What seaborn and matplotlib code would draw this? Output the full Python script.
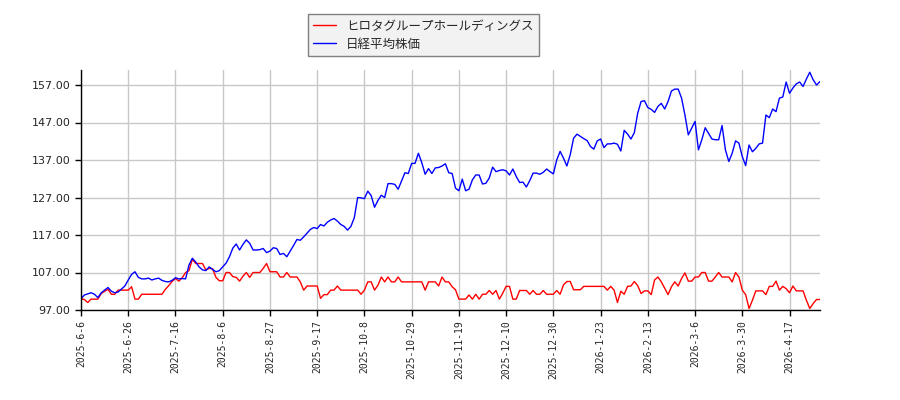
import pandas as pd
import matplotlib
matplotlib.use("Agg")
import matplotlib.pyplot as plt
import seaborn as sns

# series names
company = "ヒロタグループホールディングス"
index_name = "日経平均株価"

# tick labels (one every 14 trading days)
tick_labels = ["2025-6-6", "2025-6-26", "2025-7-16", "2025-8-6", "2025-8-27",
               "2025-9-17", "2025-10-8", "2025-10-29", "2025-11-19", "2025-12-10",
               "2025-12-30", "2026-1-23", "2026-2-13", "2026-3-6", "2026-3-30",
               "2026-4-17"]

# values (start = 100)
company_vals = [
    100.0, 99.8, 99.0, 99.9, 99.9, 99.9, 101.4, 102.0, 102.5, 101.2,
    101.2, 102.3, 102.3, 102.3, 102.3, 103.2, 99.9, 99.9, 101.2, 101.2,
    101.2, 101.2, 101.2, 101.2, 101.2, 102.5, 103.5, 104.6, 105.4, 104.7,
    105.6, 107.0, 107.5, 110.5, 109.4, 109.4, 109.4, 107.7, 108.1, 108.0,
    105.7, 104.8, 104.8, 107.0, 107.0, 105.9, 105.7, 104.7, 106.0, 107.0,
    105.7, 107.0, 107.0, 107.0, 108.1, 109.4, 107.2, 107.2, 107.2, 105.8,
    105.8, 107.0, 105.8, 105.8, 105.8, 104.5, 102.3, 103.4, 103.4, 103.4,
    103.4, 100.1, 101.1, 101.1, 102.3, 102.3, 103.4, 102.3, 102.3, 102.3,
    102.3, 102.3, 102.3, 101.2, 102.3, 104.5, 104.5, 102.3, 103.6, 105.8,
    104.5, 105.8, 104.5, 104.5, 105.8, 104.5, 104.5, 104.5, 104.5, 104.5,
    104.5, 104.5, 102.3, 104.5, 104.5, 104.5, 103.4, 105.8, 104.5, 104.5,
    103.2, 102.4, 99.9, 99.9, 99.9, 101.0, 99.9, 101.2, 99.9, 101.2,
    101.2, 102.2, 101.2, 102.2, 99.9, 101.5, 103.3, 103.3, 99.9, 99.9,
    102.2, 102.2, 102.2, 101.2, 102.2, 101.2, 101.2, 102.2, 101.2, 101.2,
    101.2, 102.2, 101.2, 103.7, 104.6, 104.6, 102.4, 102.4, 102.4, 103.3,
    103.3, 103.3, 103.3, 103.3, 103.3, 103.3, 102.3, 103.3, 102.3, 99.0,
    102.0, 101.2, 103.3, 103.4, 104.6, 103.5, 101.4, 102.1, 102.1, 101.1,
    105.0, 105.8, 104.5, 102.8, 101.1, 103.2, 104.5, 103.4, 105.4, 106.9,
    104.7, 104.7, 105.8, 105.8, 107.0, 107.0, 104.7, 104.7, 105.8, 107.0,
    105.8, 105.8, 105.8, 104.5, 107.0, 105.8, 102.3, 101.1, 97.4, 99.6,
    102.1, 102.1, 102.1, 101.1, 103.3, 103.3, 104.7, 102.3, 103.3, 102.7,
    101.6, 103.4, 102.1, 102.1, 102.1, 99.6, 97.4, 98.7, 99.8, 99.8,
]

nikkei_vals = [
    100.0, 101.0, 101.3, 101.6, 101.2, 100.3, 101.6, 102.3, 103.0, 102.0,
    101.6, 101.8, 102.6, 103.4, 105.0, 106.5, 107.2, 105.7, 105.3, 105.3,
    105.5, 105.0, 105.3, 105.5, 104.9, 104.6, 104.5, 104.9, 105.6, 105.3,
    105.4, 105.3, 109.0, 110.8, 109.8, 108.5, 107.7, 107.5, 108.5, 107.8,
    107.2, 107.5, 108.5, 109.5, 111.2, 113.5, 114.6, 113.0, 114.5, 115.7,
    114.8, 113.0, 113.0, 113.1, 113.4, 112.3, 112.7, 113.6, 113.4, 111.8,
    112.1, 111.2, 112.7, 114.2, 115.8, 115.6, 116.5, 117.5, 118.5, 119.0,
    118.7, 119.8, 119.4, 120.4, 121.0, 121.4, 120.7, 119.8, 119.3, 118.3,
    119.3, 121.6, 127.0, 126.9, 126.7, 128.7, 127.5, 124.4, 126.2, 127.6,
    127.0, 130.7, 130.7, 130.5, 129.2, 131.4, 133.6, 133.4, 136.1, 136.1,
    138.8, 136.3, 133.2, 134.7, 133.4, 134.9, 135.0, 135.4, 136.0, 133.6,
    133.4, 129.5, 128.8, 131.9, 128.8, 129.2, 131.7, 133.0, 133.0, 130.6,
    130.8, 132.2, 135.1, 133.9, 134.2, 134.4, 134.1, 133.0, 134.6, 132.6,
    131.0, 131.1, 129.8, 131.5, 133.5, 133.5, 133.2, 133.7, 134.6, 133.9,
    133.3, 137.0, 139.3, 137.5, 135.4, 138.4, 142.8, 143.9, 143.3, 142.7,
    142.2, 140.6, 139.9, 142.1, 142.6, 140.3, 141.3, 141.3, 141.5, 141.2,
    139.4, 144.9, 143.9, 142.6, 144.3, 149.5, 152.6, 152.8, 151.0, 150.5,
    149.7, 151.3, 152.1, 150.6, 152.6, 155.4, 155.9, 155.9, 153.5, 149.0,
    143.7, 145.5, 147.3, 139.7, 142.4, 145.6, 144.1, 142.6, 142.4, 142.4,
    146.2, 139.7, 136.6, 138.8, 142.1, 141.5, 137.9, 135.5, 141.0, 139.2,
    140.1, 141.3, 141.5, 149.0, 148.3, 150.6, 149.9, 153.5, 153.8, 157.8,
    154.8, 156.2, 157.3, 157.8, 156.6, 158.6, 160.4, 158.4, 157.0, 157.9,
]

df = pd.DataFrame({
    "idx": list(range(len(company_vals))) * 2,
    "value": company_vals + nikkei_vals,
    "name": [company] * len(company_vals) + [index_name] * len(nikkei_vals),
})

sns.set_style("white")
plt.rcParams["font.family"] = ["Noto Sans CJK JP", "DejaVu Sans"]

fig = plt.figure(figsize=(9, 4), dpi=100)
ax = fig.add_axes([0.09, 0.225, 0.821, 0.6])

sns.lineplot(data=df, x="idx", y="value", hue="name",
             hue_order=[company, index_name],
             palette={company: "#ff0000", index_name: "#0000ff"},
             linewidth=1, ax=ax)

ax.set_xlim(0, len(company_vals) - 1)
ax.set_ylim(97, 161)
ax.set_xticks([i * 14 for i in range(len(tick_labels))])
ax.set_xticklabels(tick_labels, rotation=90, family="DejaVu Sans Mono", fontsize=7)
ax.set_yticks([97, 107, 117, 127, 137, 147, 157])
ax.set_yticklabels([f"{v:.2f}" for v in [97, 107, 117, 127, 137, 147, 157]],
                   family="DejaVu Sans", fontsize=8)
ax.tick_params(axis="both", direction="out", length=4, width=1, color="black",
               bottom=True, left=True)
ax.grid(True, color="#c8c8c8", linewidth=1)
ax.set_axisbelow(True)
ax.set_xlabel("")
ax.set_ylabel("")
for s in ["top", "right"]:
    ax.spines[s].set_visible(False)
for s in ["left", "bottom"]:
    ax.spines[s].set_color("black")
    ax.spines[s].set_linewidth(1)

handles, labels = ax.get_legend_handles_labels()
ax.legend(handles, labels, loc="upper left", bbox_to_anchor=(0.342, 0.965),
          bbox_transform=fig.transFigure, borderaxespad=0, fontsize=9,
          frameon=True, fancybox=False, facecolor="#f2f2f2", edgecolor="#808080",
          framealpha=1, handlelength=1.8, borderpad=0.45, labelspacing=0.4)

fig.savefig("out.png", dpi=100)
